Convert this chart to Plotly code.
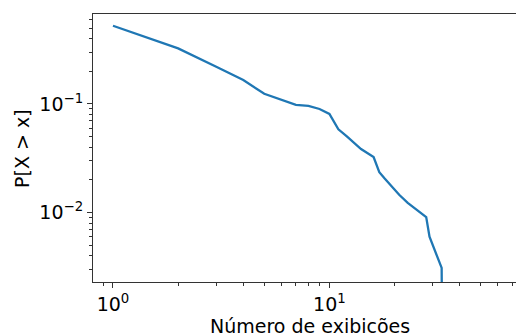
import plotly.graph_objects as go

# Complementary CDF of the number of views per item (log-log)
exibicoes = [1, 2, 3, 4, 5, 6, 7, 8, 9, 10, 11, 12, 13, 14, 16, 17, 18, 19,
             21, 23, 28, 29, 33, 34]
prob_maior = [0.525, 0.325, 0.220, 0.166, 0.124, 0.109, 0.098, 0.096, 0.090,
              0.081, 0.0585, 0.0505, 0.0440, 0.0385, 0.0325, 0.0236, 0.0206,
              0.0182, 0.0146, 0.0123, 0.0091, 0.0060, 0.0031, 0.0]

# decade tick positions and their labels
x_ticks = [1, 10]
x_tick_labels = ["10<sup>0</sup>", "10<sup>1</sup>"]
y_ticks = [0.01, 0.1]
y_tick_labels = ["10<sup>−2</sup>", "10<sup>−1</sup>"]

# zero probabilities cannot sit on a log axis: clip them to a tiny floor
piso = 1e-6
y_plot = [p if p > 0 else piso for p in prob_maior]

FONT = "DejaVu Sans"
AXIS_COLOR = "#333333"

fig = go.Figure()
fig.add_trace(go.Scatter(
    x=exibicoes, y=y_plot, mode="lines",
    line=dict(color="#1f77b4", width=2.3),
    showlegend=False, hoverinfo="skip",
))

common = dict(
    type="log", tickmode="array",
    showgrid=False, zeroline=False,
    showline=True, linecolor=AXIS_COLOR, linewidth=1.1,
    ticks="outside", ticklen=5, tickwidth=1.1, tickcolor=AXIS_COLOR,
    tickfont=dict(family=FONT, size=19, color="black"),
    minor=dict(ticks="outside", ticklen=3, tickwidth=0.8,
               tickcolor=AXIS_COLOR, dtick="D1", showgrid=False),
)

fig.update_xaxes(range=[-0.0923, 1.862], mirror=True,
                 tickvals=x_ticks, ticktext=x_tick_labels, **common)
fig.update_yaxes(range=[-2.638, -0.172],
                 tickvals=y_ticks, ticktext=y_tick_labels, **common)

fig.update_layout(
    width=516, height=333,
    margin=dict(l=93, r=0, t=14, b=51),
    paper_bgcolor="white", plot_bgcolor="white",
    font=dict(family=FONT, size=19, color="black"),
    annotations=[
        dict(text="Número de exibições", xref="paper", yref="paper",
             x=0.513, y=-0.1175, xanchor="center", yanchor="top",
             showarrow=False, font=dict(family=FONT, size=19, color="black")),
        dict(text="P[X > x]", xref="paper", yref="paper",
             x=-0.168, y=0.5, xanchor="center", yanchor="middle",
             textangle=-90, showarrow=False,
             font=dict(family=FONT, size=19, color="black")),
    ],
)

fig.write_html("out.html")
